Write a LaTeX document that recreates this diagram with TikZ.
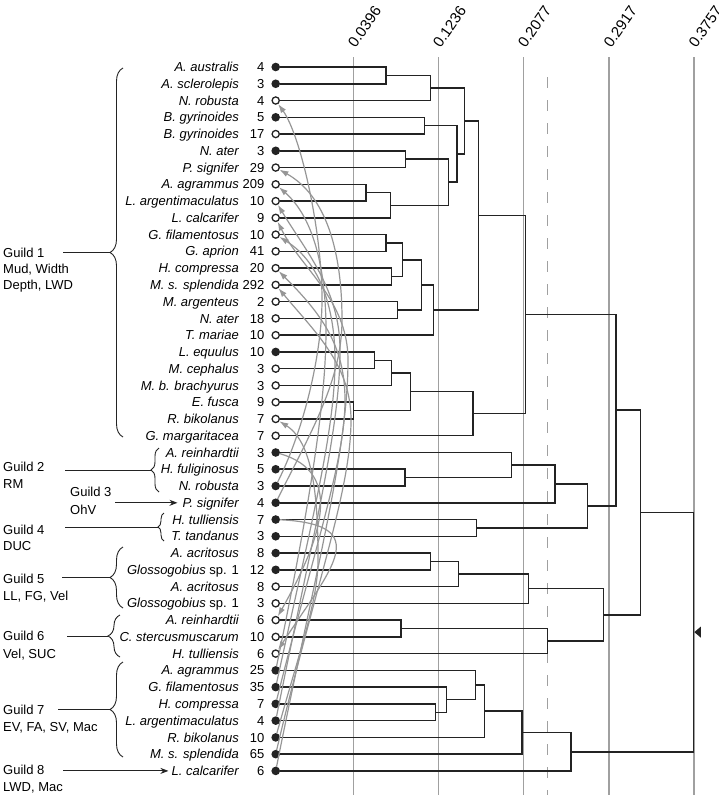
\documentclass[tikz,border=0pt]{standalone}
\usepackage{fontspec}
\setmainfont{Liberation Sans}
\usetikzlibrary{arrows.meta,decorations.pathreplacing}
\definecolor{treec}{RGB}{35,35,35}
\definecolor{refc}{RGB}{160,160,160}
\definecolor{arrc}{RGB}{150,150,150}
\begin{document}
\begin{tikzpicture}[x=1pt,y=-1pt,
  txt/.style={font=\fontsize{13}{15.7}\selectfont, inner sep=0pt},
  spname/.style={txt, font=\fontsize{13}{15.7}\selectfont\itshape, anchor=base east},
  spnum/.style={txt, anchor=base east},
  leaf/.style={circle, draw=treec, fill=#1, line width=1.3pt, minimum size=7.2pt, inner sep=0pt},
  treel/.style={draw=treec, line width=1.5pt},
  refl/.style={draw=refc, line width=1.2pt},
  scalelab/.style={txt, font=\fontsize{15}{17}\selectfont, rotate=55, anchor=south west},
  garr/.style={draw=arrc, line width=1.2pt, -{Latex[length=9pt,width=6pt]}},
  glab/.style={txt, anchor=base west},
  gline/.style={draw=treec, line width=0.9pt},
  gbrace/.style={draw=treec, line width=0.9pt, decorate, decoration={brace, amplitude=#1}},
  garrow/.style={gline, -{Stealth[length=8pt,width=6pt]}},
]
\useasboundingbox (0,0) rectangle (719,795);

% scale lines
\foreach \xx/\lab [count=\j] in {353.3/0.0396, 438.3/0.1236, 523.3/0.2077, 609/0.2917, 694/0.3757} {
  \draw[refl] (\xx,57) -- (\xx,795);
  \node[scalelab] (s\j) at ({\xx+2.5},49) {\lab};
}
\draw[refl, dash pattern=on 11pt off 12pt] (547.3,77) -- (547.3,795);

% leaves
\foreach \i/\nm/\nu/\ty in {
 1/{A. australis}/4/treec,
 2/{A. sclerolepis}/3/treec,
 3/{N. robusta}/4/white,
 4/{B. gyrinoides}/5/treec,
 5/{B. gyrinoides}/17/white,
 6/{N. ater}/3/treec,
 7/{P. signifer}/29/white,
 8/{A. agrammus}/209/white,
 9/{L. argentimaculatus}/10/white,
 10/{L. calcarifer}/9/white,
 11/{G. filamentosus}/10/white,
 12/{G. aprion}/41/white,
 13/{H. compressa}/20/white,
 14/{M. s. splendida}/292/white,
 15/{M. argenteus}/2/white,
 16/{N. ater}/18/white,
 17/{T. mariae}/10/white,
 18/{L. equulus}/10/treec,
 19/{M. cephalus}/3/white,
 20/{M. b. brachyurus}/3/white,
 21/{E. fusca}/9/white,
 22/{R. bikolanus}/7/white,
 23/{G. margaritacea}/7/white,
 24/{A. reinhardtii}/3/treec,
 25/{H. fuliginosus}/5/treec,
 26/{N. robusta}/3/treec,
 27/{P. signifer}/4/treec,
 28/{H. tulliensis}/7/treec,
 29/{T. tandanus}/3/treec,
 30/{A. acritosus}/8/treec,
 31/{Glossogobius {\upshape sp. 1}}/12/treec,
 32/{A. acritosus}/8/white,
 33/{Glossogobius {\upshape sp. 1}}/3/white,
 34/{A. reinhardtii}/6/white,
 35/{C. stercusmuscarum}/10/white,
 36/{H. tulliensis}/6/white,
 37/{A. agrammus}/25/treec,
 38/{G. filamentosus}/35/treec,
 39/{H. compressa}/7/treec,
 40/{L. argentimaculatus}/4/treec,
 41/{R. bikolanus}/10/treec,
 42/{M. s. splendida}/65/treec,
 43/{L. calcarifer}/6/treec} {
  \pgfmathsetmacro{\yy}{67+16.76*(\i-1)}
  \node[leaf=\ty] (c\i) at (275.7,\yy) {};
  \node[spname] (n\i) at (239,{\yy+4.6}) {\nm};
  \node[spnum] (k\i) at (264.5,{\yy+4.6}) {\nu};
}

% internal nodes
\coordinate (tA) at (386,75.4);
\coordinate (tB) at (430.3,88.0);
\coordinate (tC) at (424.3,125.7);
\coordinate (tD) at (405.3,159.2);
\coordinate (tE) at (366,192.7);
\coordinate (tF) at (390.3,205.3);
\coordinate (tG) at (448.7,182.2);
\coordinate (tH) at (457,153.9);
\coordinate (tI) at (464.3,121.0);
\coordinate (tJ) at (386,243.0);
\coordinate (tK) at (391.7,276.5);
\coordinate (tL) at (402.7,259.8);
\coordinate (tM) at (397.3,310.0);
\coordinate (tN) at (421.7,284.9);
\coordinate (tO) at (433.3,310.0);
\coordinate (tP) at (478.7,215.5);
\coordinate (tQ) at (374.7,360.3);
\coordinate (tR) at (391.7,372.9);
\coordinate (tS) at (353.3,410.6);
\coordinate (tT) at (410.3,391.7);
\coordinate (tU) at (473,413.7);
\coordinate (tV) at (525.7,314.6);
\coordinate (tW) at (405,477.6);
\coordinate (tX) at (511.5,465.0);
\coordinate (tY) at (554.8,483.9);
\coordinate (tZ) at (476.7,527.9);
\coordinate (tAA) at (587.3,505.9);
\coordinate (tAB) at (616,410.2);
\coordinate (tAC) at (430.3,561.4);
\coordinate (tAD) at (458.3,574.0);
\coordinate (tAE) at (528.7,588.7);
\coordinate (tAF) at (401,628.5);
\coordinate (tAG) at (547.3,641.0);
\coordinate (tAH) at (603.3,614.9);
\coordinate (tAI) at (640.7,512.5);
\coordinate (tAJ) at (435.3,712.3);
\coordinate (tAK) at (446.3,699.7);
\coordinate (tAL) at (475.3,685.0);
\coordinate (tAM) at (484.7,711.2);
\coordinate (tAN) at (522,732.7);
\coordinate (tAO) at (571,751.8);
\coordinate (tRT) at (693.3,632.1);

% tree
\draw[treel] (c1) -| (tA) |- (c2);
\draw[treel] (tA) -| (tB) |- (c3);
\draw[treel] (c4) -| (tC) |- (c5);
\draw[treel] (c6) -| (tD) |- (c7);
\draw[treel] (c8) -| (tE) |- (c9);
\draw[treel] (tE) -| (tF) |- (c10);
\draw[treel] (tD) -| (tG) |- (tF);
\draw[treel] (tC) -| (tH) |- (tG);
\draw[treel] (tB) -| (tI) |- (tH);
\draw[treel] (c11) -| (tJ) |- (c12);
\draw[treel] (c13) -| (tK) |- (c14);
\draw[treel] (tJ) -| (tL) |- (tK);
\draw[treel] (c15) -| (tM) |- (c16);
\draw[treel] (tL) -| (tN) |- (tM);
\draw[treel] (tN) -| (tO) |- (c17);
\draw[treel] (tI) -| (tP) |- (tO);
\draw[treel] (c18) -| (tQ) |- (c19);
\draw[treel] (tQ) -| (tR) |- (c20);
\draw[treel] (c21) -| (tS) |- (c22);
\draw[treel] (tR) -| (tT) |- (tS);
\draw[treel] (tT) -| (tU) |- (c23);
\draw[treel] (tP) -| (tV) |- (tU);
\draw[treel] (c25) -| (tW) |- (c26);
\draw[treel] (c24) -| (tX) |- (tW);
\draw[treel] (tX) -| (tY) |- (c27);
\draw[treel] (c28) -| (tZ) |- (c29);
\draw[treel] (tY) -| (tAA) |- (tZ);
\draw[treel] (tV) -| (tAB) |- (tAA);
\draw[treel] (c30) -| (tAC) |- (c31);
\draw[treel] (tAC) -| (tAD) |- (c32);
\draw[treel] (tAD) -| (tAE) |- (c33);
\draw[treel] (c34) -| (tAF) |- (c35);
\draw[treel] (tAF) -| (tAG) |- (c36);
\draw[treel] (tAE) -| (tAH) |- (tAG);
\draw[treel] (tAB) -| (tAI) |- (tAH);
\draw[treel] (c39) -| (tAJ) |- (c40);
\draw[treel] (c38) -| (tAK) |- (tAJ);
\draw[treel] (c37) -| (tAL) |- (tAK);
\draw[treel] (tAL) -| (tAM) |- (c41);
\draw[treel] (tAM) -| (tAN) |- (c42);
\draw[treel] (tAN) -| (tAO) |- (c43);
\draw[treel] (tAI) -| (tRT) |- (tAO);
\fill[treec] ([xshift=1pt]tRT) -- ++(6.5,-5.5) -- ++(0,11) -- cycle;

% gray arrows (turning points of the arcs)
\coordinate (ma) at (322,300);
\coordinate (mb) at (342,320);
\coordinate (mc) at (326,330);
\coordinate (md) at (340,350);
\coordinate (me) at (348,360);
\coordinate (mf) at (335,360);
\coordinate (mg) at (345,400);
\coordinate (mh) at (351,420);
\coordinate (mi) at (318,560);
\draw[garr] (c26) .. controls +(30,-60) and +(0,50) .. (ma) .. controls +(0,-70) and +(25,35) .. (c3);
\draw[garr] (c27) .. controls +(35,-70) and +(0,60) .. (mb) .. controls +(0,-70) and +(50,28) .. (c7);
\draw[garr] (c37) .. controls +(35,-170) and +(0,70) .. (mc) .. controls +(0,-55) and +(40,35) .. (c8);
\draw[garr] (c40) .. controls +(38,-190) and +(0,80) .. (md) .. controls +(0,-60) and +(30,50) .. (c9);
\draw[garr] (c43) .. controls +(40,-200) and +(0,90) .. (me) .. controls +(0,-60) and +(25,50) .. (c10);
\draw[garr] (c38) .. controls +(37,-170) and +(0,70) .. (mf) .. controls +(0,-50) and +(45,28) .. (c11);
\draw[garr] (c39) .. controls +(40,-160) and +(0,60) .. (mg) .. controls +(0,-55) and +(45,45) .. (c13);
\draw[garr] (c42) .. controls +(40,-170) and +(0,70) .. (mh) .. controls +(0,-55) and +(40,48) .. (c14);
\draw[garr] (c41) .. controls +(25,-90) and +(0,40) .. (mi) .. controls +(0,-50) and +(40,25) .. (c22);
\draw[garr] (c24) .. controls +(70,20) and +(45,-80) .. (c34);
\draw[garr] (c28) .. controls +(100,5) and +(55,-85) .. (c36);

% guilds
\node[glab] (g1a) at (3,257.6) {Guild 1};
\node[glab] (g1b) at (3,273.4) {Mud, Width};
\node[glab] (g1c) at (3,289.2) {Depth, LWD};
\draw[gbrace=13pt] (123,437) -- (123,68);
\coordinate (b1) at (110,252.5);
\coordinate (g1s) at (63,252.5);
\draw[gline] (g1s) -- (b1);

\node[glab] (g2a) at (3,471.4) {Guild 2};
\node[glab] (g2b) at (3,488) {RM};
\draw[gbrace=8pt] (159,492) -- (159,448);
\coordinate (b2) at (151,470);
\coordinate (g2s) at (65,470);
\draw[gline] (g2s) -- (b2);

\node[glab] (g3a) at (70,496.4) {Guild 3};
\node[glab] (g3b) at (70,514) {OhV};
\coordinate (g3s) at (115,502.8);
\draw[garrow, shorten >=5pt] (g3s) -- (g3s -| n27.west);

\node[glab] (g4a) at (3,534) {Guild 4};
\node[glab] (g4b) at (3,550.7) {DUC};
\draw[gbrace=6pt] (164,541) -- (164,513);
\coordinate (b4) at (158,527);
\coordinate (g4s) at (65,527);
\draw[gline] (g4s) -- (b4);

\node[glab] (g5a) at (3,583) {Guild 5};
\node[glab] (g5b) at (3,600.7) {LL, FG, Vel};
\draw[gbrace=13pt] (123,608) -- (123,547);
\coordinate (b5) at (110,577.5);
\coordinate (g5s) at (62,577.5);
\draw[gline] (g5s) -- (b5);

\node[glab] (g6a) at (3,640.7) {Guild 6};
\node[glab] (g6b) at (3,658) {Vel, SUC};
\draw[gbrace=12pt] (120,657) -- (120,615);
\coordinate (b6) at (108,636);
\coordinate (g6s) at (67,636);
\draw[gline] (g6s) -- (b6);

\node[glab] (g7a) at (3,714) {Guild 7};
\node[glab] (g7b) at (3,731.4) {EV, FA, SV, Mac};
\draw[gbrace=13pt] (123,757) -- (123,662);
\coordinate (b7) at (110,709.5);
\coordinate (g7s) at (58,709.5);
\draw[gline] (g7s) -- (b7);

\node[glab] (g8a) at (3,774.7) {Guild 8};
\node[glab] (g8b) at (3,791.4) {LWD, Mac};
\coordinate (g8s) at (63,770.9);
\draw[garrow, shorten >=3pt] (g8s) -- (g8s -| n43.west);
\end{tikzpicture}
\end{document}
